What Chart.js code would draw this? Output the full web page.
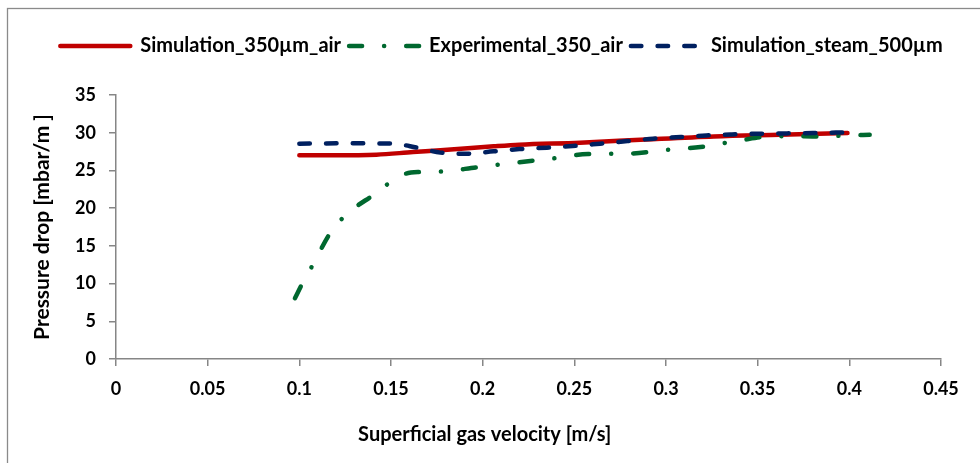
<!DOCTYPE html>
<html><head><meta charset="utf-8">
<script src="https://cdn.jsdelivr.net/npm/chart.js@4/dist/chart.umd.min.js"></script>
<style>html,body{margin:0;padding:0;background:#fff}</style>
</head><body>
<canvas id="c" width="980" height="463"></canvas>
<script>
// ---- data ----
const xTickLabels = ['0','0.05','0.1','0.15','0.2','0.25','0.3','0.35','0.4','0.45'];
const yTickLabels = ['0','5','10','15','20','25','30','35'];
const seriesNames = ['Simulation_350µm_air', 'Experimental_350_air', 'Simulation_steam_500µm'];

const simAirX = [0.1, 0.12, 0.142, 0.162, 0.177, 0.206, 0.22, 0.253, 0.289, 0.326, 0.362, 0.399];
const simAirY = [27.0, 27.0, 27.09, 27.43, 27.66, 28.19, 28.41, 28.68, 29.11, 29.51, 29.73, 29.95];

const expAirX = [0.0976, 0.1017, 0.107, 0.1167, 0.1234, 0.1316, 0.1394, 0.1478, 0.157, 0.1658, 0.1767, 0.1967, 0.2176, 0.2377, 0.2575, 0.2793, 0.2988, 0.3188, 0.3402, 0.3599, 0.3799, 0.4011, 0.4111];
const expAirY = [8.06, 10.04, 12.33, 16.65, 18.63, 20.3, 21.58, 23.13, 24.49, 24.79, 24.85, 25.41, 26.03, 26.56, 27.17, 27.22, 27.7, 28.1, 28.98, 29.55, 29.51, 29.64, 29.73];

const simSteamX = [0.1, 0.125, 0.151, 0.164, 0.177, 0.191, 0.206, 0.22, 0.235, 0.249, 0.264, 0.279, 0.293, 0.308, 0.322, 0.336, 0.351, 0.366, 0.38, 0.399];
const simSteamY = [28.55, 28.6, 28.55, 28.02, 27.36, 27.22, 27.53, 27.83, 28.02, 28.23, 28.55, 28.89, 29.21, 29.42, 29.64, 29.77, 29.87, 29.91, 29.95, 30.05];

const xTitle = 'Superficial gas velocity [m/s]';
const yTitle = 'Pressure drop [mbar/m ]';

function pts(xs, ys) { return xs.map((x, i) => ({x: x, y: ys[i]})); }

Chart.defaults.font.family = 'Lato';
Chart.defaults.font.weight = 'bold';
Chart.defaults.color = '#000';

const AXIS = '#868686';
const TICKFONT = {family: 'Lato', size: 18, weight: 'bold'};
const LEGENDFONT = {family: 'Lato', size: 20, weight: 'bold'};
const YTITLEFONT = {family: 'Lato', size: 21, weight: 'bold'};

const frame = {
  id: 'frame',
  beforeDraw(chart) {
    const ctx = chart.ctx;
    ctx.save();
    ctx.fillStyle = '#fff';
    ctx.fillRect(0, 0, chart.width, chart.height);
    ctx.strokeStyle = '#8a8a8a';
    ctx.lineWidth = 1.3;
    ctx.strokeRect(7.5, 8.5, chart.width + 20, chart.height + 20);
    ctx.restore();
  },
  beforeLayout(chart) {
    const lg = chart.legend;
    if (lg && !lg._fixed) {
      const orig = lg.fit.bind(lg);
      lg.fit = function () { orig(); this.height = 67; };
      lg._fixed = true;
    }
  },
  afterDraw(chart) {
    const ctx = chart.ctx;
    const xs = chart.scales.x;
    ctx.save();
    ctx.font = 'bold 20px Lato';
    ctx.fillStyle = '#000';
    ctx.textAlign = 'center';
    ctx.textBaseline = 'middle';
    ctx.fillText(xTitle, xs.getPixelForValue(0.2) + 2, 435);
    ctx.restore();
  }
};

new Chart(document.getElementById('c'), {
  type: 'scatter',
  data: {
    datasets: [
      {label: seriesNames[0], data: pts(simAirX, simAirY), showLine: true, borderColor: '#C00000', backgroundColor: '#C00000',
       borderWidth: 4.5, pointRadius: 0, pointStyle: 'line', borderCapStyle: 'round', cubicInterpolationMode: 'monotone', order: 3},
      {label: seriesNames[1], data: pts(expAirX, expAirY), showLine: true, borderColor: '#00682F', backgroundColor: '#00682F',
       borderWidth: 4.5, borderDash: [13, 22, 0.1, 22], borderCapStyle: 'round', pointRadius: 0, pointStyle: 'line', cubicInterpolationMode: 'monotone', order: 2},
      {label: seriesNames[2], data: pts(simSteamX, simSteamY), showLine: true, borderColor: '#002060', backgroundColor: '#002060',
       borderWidth: 4.5, borderDash: [10.5, 16.2], borderCapStyle: 'round', pointRadius: 0, pointStyle: 'line', cubicInterpolationMode: 'monotone', order: 1}
    ]
  },
  options: {
    responsive: false,
    animation: false,
    devicePixelRatio: 1,
    layout: {padding: {left: 23, right: 0, top: 28, bottom: 0}},
    plugins: {
      legend: {
        position: 'top',
        labels: {
          usePointStyle: true, pointStyleWidth: 70, padding: 8,
          font: LEGENDFONT, color: '#000',
          sort: (a, b) => a.datasetIndex - b.datasetIndex,
          generateLabels(chart) {
            const items = Chart.defaults.plugins.legend.labels.generateLabels(chart);
            return items.map(it => {
              const ds = chart.data.datasets[it.datasetIndex];
              it.lineDash = ds.borderDash || [];
              it.lineWidth = ds.borderWidth;
              it.lineCap = 'round';
              it.strokeStyle = ds.borderColor;
              it.fillStyle = ds.borderColor;
              it.pointStyle = 'line';
              return it;
            });
          }
        }
      },
      tooltip: {enabled: false}
    },
    scales: {
      x: {
        type: 'linear', min: 0, max: 0.45,
        afterFit(s) { s.height = 104; },
        afterBuildTicks(s) { s.ticks = xTickLabels.map(v => ({value: parseFloat(v)})); },
        ticks: {font: TICKFONT, color: '#000', padding: 12, maxRotation: 0, autoSkip: false,
                callback: (v, i) => xTickLabels[i]},
        grid: {display: true, drawOnChartArea: false, drawTicks: true, tickLength: 7, color: AXIS, lineWidth: 1.5},
        border: {display: true, color: AXIS, width: 1.5},
        title: {display: false}
      },
      y: {
        type: 'linear', min: 0, max: 35, position: 'left',
        afterFit(s) { s.width = 93; },
        afterBuildTicks(s) { s.ticks = yTickLabels.map(v => ({value: parseFloat(v)})); },
        ticks: {font: TICKFONT, color: '#000', padding: 13, callback: (v, i) => yTickLabels[i]},
        grid: {display: true, drawOnChartArea: false, drawTicks: true, tickLength: 7, color: AXIS, lineWidth: 1.5},
        border: {display: true, color: AXIS, width: 1.5},
        title: {display: true, text: yTitle, font: YTITLEFONT, color: '#000', padding: {top: 7, bottom: 0}}
      },
      yRight: {
        type: 'linear', position: 'right', display: true,
        afterFit(s) { s.width = 39; },
        ticks: {display: false},
        grid: {display: false},
        border: {display: false}
      }
    }
  },
  plugins: [frame]
});
</script>
</body></html>
